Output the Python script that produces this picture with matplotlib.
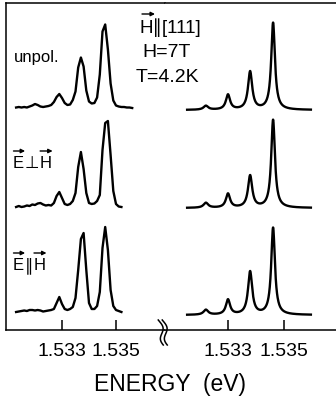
import numpy as np
import matplotlib
matplotlib.use("Agg")
import matplotlib.pyplot as plt
from matplotlib.patches import FancyArrowPatch

plt.rcParams['font.family'] = ['Liberation Sans', 'DejaVu Sans']

# measured spectra, sampled every 0.1 meV starting at 1.5313 eV
e_meas = 1.5313 + 0.0001 * np.arange(44)
unpol = [0, 0.5, 0, 0.5, 0, 1, 2, 3.5, 2.5, 1, 0.5, 1, 1.5, 2.5, 5.5, 10.5,
         13.5, 9.5, 4.5, 2.5, 3, 7.5, 16, 40, 50, 41, 17, 6, 4, 4.5, 10, 33,
         76, 83, 58, 24, 7, 2, 1, 0.5, 0.5, 0, 0, -0.5]
e_perp_h = [0, 1, 0, 0.5, 1.5, 1, 2.5, 2, 3.5, 4, 2.5, 1.5, 2, 1.5, 4, 11,
            15, 9, 3, 2, 3, 6, 14, 40, 55, 38, 14, 4, 3, 3.5, 6, 12,
            57, 84, 86, 52, 16, 3, 0.5, 0]
e_par_h = [0, 0.5, 1, 1.5, 1, 2, 2, 1.5, 2, 1.5, 0.5, 1, 1.5, 2, 3, 9,
           15, 8, 3, 2, 3, 5, 14, 42, 73, 79, 42, 9, 3, 3, 6, 20,
           64, 85, 62, 22, 6, 2, 1, 0]
meas_offsets = [222.5, 123, 18]

# calculated spectra: line energies, widths and heights
calc_lines = [1.53221, 1.53300, 1.53379, 1.53461]
calc_hwhm = [0.00010, 0.00009, 0.00009, 0.00008]
calc_unpol = [4, 15, 38, 87]
calc_perp = [5, 14, 32, 88]
calc_par = [5, 15, 43, 87]
calc_offsets = [220, 122, 15]

W, H = 336, 404
fig = plt.figure(figsize=(W / 100, H / 100), dpi=100)


def rect(x0, y0, x1, y1):
    return [x0 / W, 1 - y1 / H, (x1 - x0) / W, (y1 - y0) / H]


def fp(x, y):
    return (x / W, 1 - y / H)


axl = fig.add_axes(rect(6, 3, 165, 330))
axr = fig.add_axes(rect(165, 3, 336, 330))

lw = 1.7
for ys, off in zip([unpol, e_perp_h, e_par_h], meas_offsets):
    axl.plot(e_meas[:len(ys)], np.array(ys) + off, color='black', lw=lw,
             solid_joinstyle='round')

e_calc = np.linspace(1.53154, 1.53596, 600)
for amps, off in zip([calc_unpol, calc_perp, calc_par], calc_offsets):
    spec = np.zeros_like(e_calc)
    for e0, g, a in zip(calc_lines, calc_hwhm, amps):
        spec += a * g**2 / ((e_calc - e0)**2 + g**2)
    axr.plot(e_calc, spec + off, color='black', lw=lw)

axl.set_xlim(1.5309259, 1.5368148)
axr.set_xlim(1.53075, 1.5368571)
for ax in (axl, axr):
    ax.set_ylim(0, 327)
    ax.set_yticks([])
    ax.set_xticks([1.533, 1.535])
    ax.set_xticklabels(['1.533', '1.535'])
    ax.tick_params(axis='x', direction='in', length=7.5, width=1.1,
                   pad=9, labelsize=14)
    ax.spines['right'].set_visible(False)
    for s in ('top', 'bottom', 'left'):
        ax.spines[s].set_linewidth(1.1)
axr.spines['left'].set_visible(False)

# axis break
t = np.linspace(0, 1, 40)
for dx in (0, 4):
    xs = 159 + dx + 2.5 * np.sin(2 * np.pi * t - 0.3) + 5 * t
    ys = 320 + 25 * t
    fig.add_artist(plt.Line2D(xs / W, 1 - ys / H, color='black', lw=1.1))

fig.text(*fp(170, 385), 'ENERGY  (eV)', ha='center', va='center', fontsize=16.5)

fig.text(*fp(14, 62), 'unpol.', ha='left', va='baseline', fontsize=12)
fig.text(*fp(170, 33), 'H\u2225[111]', ha='center', va='baseline', fontsize=13.5)
fig.text(*fp(167, 57), 'H=7T', ha='center', va='baseline', fontsize=14)
fig.text(*fp(167, 82), 'T=4.2K', ha='center', va='baseline', fontsize=14)


def vec(x0, x1, y):
    fig.add_artist(FancyArrowPatch(fp(x0, y), fp(x1, y), transform=fig.transFigure,
                                   arrowstyle='-|>', mutation_scale=6, lw=1,
                                   color='black', shrinkA=0, shrinkB=0))


# polarisation labels built from pieces so the vector arrows sit over E and H
def pol_label(x, y, mid):
    parts = ['E', mid, 'H']
    r = fig.canvas.get_renderer()
    for i, s in enumerate(parts):
        txt = fig.text(*fp(x, y), s, ha='left', va='baseline', fontsize=12)
        bb = txt.get_window_extent(renderer=r)
        if s in ('E', 'H'):
            vec(bb.x0 + 0.5, bb.x1 + 1, y - 17)
        x = bb.x1 + 0.5
    return x


pol_label(13, 168, '\u22a5')
pol_label(13, 270, '\u2225')
vec(142, 155, 14)

fig.savefig('out.png', dpi=100)
